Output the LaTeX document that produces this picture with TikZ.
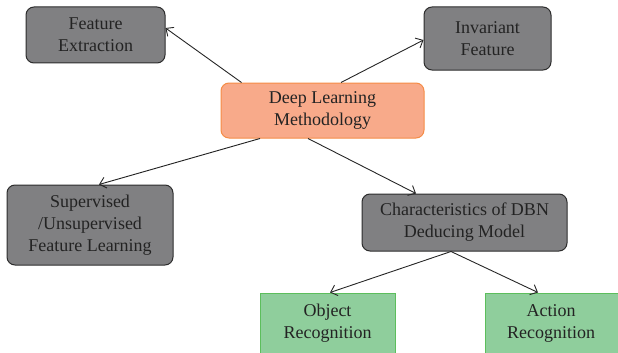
\documentclass[tikz,border=0pt]{standalone}
\usepackage{fontspec}
\setmainfont{Liberation Serif}
\usetikzlibrary{arrows.meta,calc}
\definecolor{grayfill}{RGB}{128,128,130}
\definecolor{grayline}{RGB}{45,45,45}
\definecolor{orfill}{RGB}{248,170,138}
\definecolor{orline}{RGB}{245,140,70}
\definecolor{grfill}{RGB}{143,206,156}
\definecolor{grline}{RGB}{92,190,92}
\definecolor{txt}{RGB}{35,35,35}
\tikzset{
  box/.style={rectangle, align=center, text=txt, line width=1pt, inner sep=0pt,
    font=\fontsize{18}{22}\selectfont},
  graybox/.style={box, rounded corners=8pt, fill=grayfill, draw=grayline},
  orbox/.style={box, rounded corners=8pt, fill=orfill, draw=orline},
  grbox/.style={box, fill=grfill, draw=grline},
  conn/.style={draw=black!85, line width=0.9pt, -{Straight Barb[length=6pt,width=11pt]}}
}
\begin{document}
\begin{tikzpicture}[x=1pt,y=-1pt]
\useasboundingbox (0,0) rectangle (618,353);
\node[graybox, minimum width=139pt, minimum height=56pt] (fe) at (95.5,35) {Feature\\Extraction};
\node[graybox, minimum width=127pt, minimum height=63pt] (inv) at (487.5,38.5) {Invariant\\Feature};
\node[orbox, minimum width=203pt, minimum height=55pt] (dl) at (322.5,110.5) {Deep Learning\\Methodology};
\node[graybox, minimum width=166pt, minimum height=80pt] (su) at (90,225) {Supervised\\/Unsupervised\\Feature Learning};
\node[graybox, minimum width=205pt, minimum height=57pt] (ch) at (464.5,222.5) {Characteristics of DBN\\Deducing Model};
\node[grbox, minimum width=135pt, minimum height=70pt] (obj) at (327.5,328) {};
\node[box] (objt) at (327.5,323) {Object\\Recognition};
\node[grbox, minimum width=160pt, minimum height=70pt] (act) at (565,328) {};
\node[box] (actt) at (551,323) {Action\\Recognition};
\draw[conn] ([xshift=-81pt]dl.north) -- ([yshift=7pt]fe.east);
\draw[conn] ([xshift=18.5pt]dl.north) -- ([yshift=-1.5pt]inv.west);
\draw[conn] ([xshift=-62.5pt]dl.south) -- ([xshift=9pt]su.north);
\draw[conn] ([xshift=-14.5pt]dl.south) -- ([xshift=-48.5pt]ch.north);
\draw[conn] ([xshift=-13.5pt]ch.south) -- ([xshift=2.5pt]obj.north);
\draw[conn] ([xshift=-13.5pt]ch.south) -- ([xshift=-27pt]act.north);
\end{tikzpicture}
\end{document}
